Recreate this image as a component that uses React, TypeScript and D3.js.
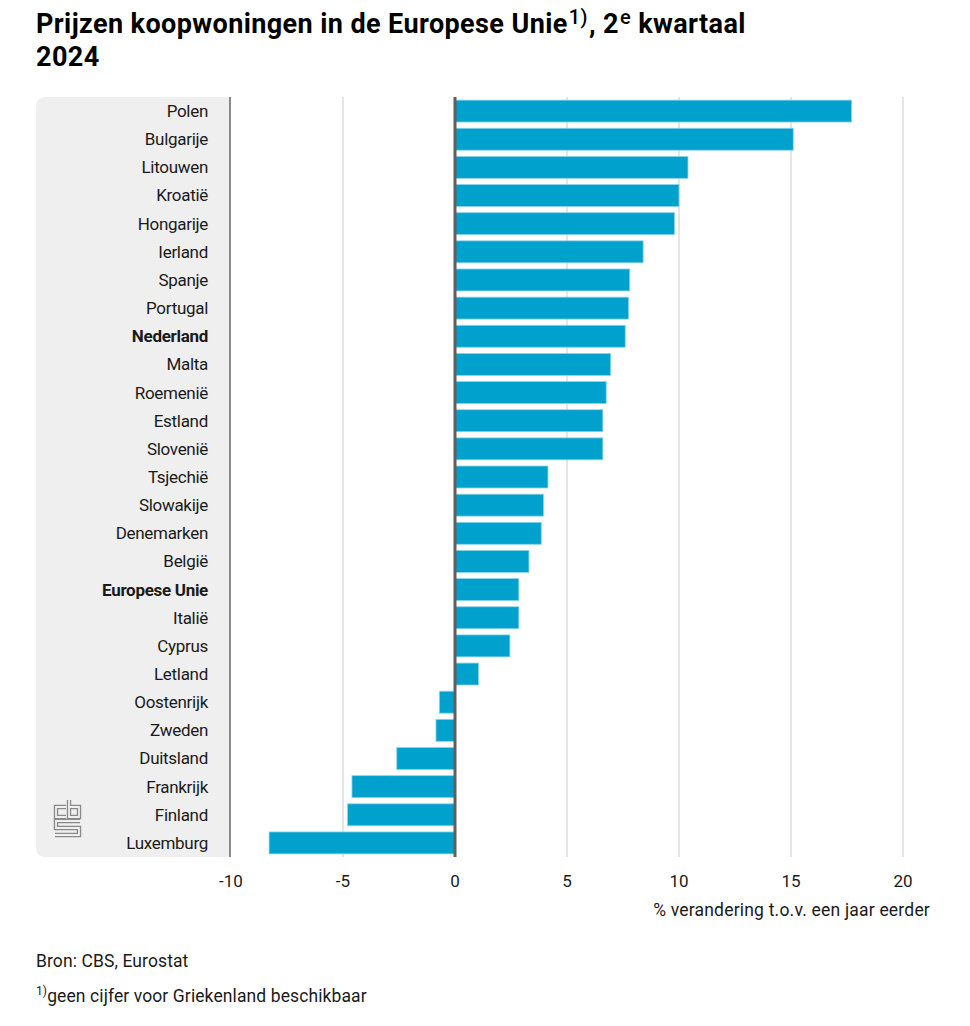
import React from "react";
import * as d3 from "d3";

const countries = [
  "Polen", "Bulgarije", "Litouwen", "Kroatië", "Hongarije", "Ierland", "Spanje",
  "Portugal", "Nederland", "Malta", "Roemenië", "Estland", "Slovenië", "Tsjechië",
  "Slowakije", "Denemarken", "België", "Europese Unie", "Italië", "Cyprus", "Letland",
  "Oostenrijk", "Zweden", "Duitsland", "Frankrijk", "Finland", "Luxemburg",
];
const values = [
  17.7, 15.1, 10.4, 10.0, 9.8, 8.4, 7.8,
  7.75, 7.6, 6.95, 6.75, 6.6, 6.6, 4.15,
  3.95, 3.85, 3.3, 2.85, 2.85, 2.45, 1.05,
  -0.7, -0.85, -2.6, -4.6, -4.8, -8.3,
];
const boldCountries = ["Nederland", "Europese Unie"];
const xTicks = [-10, -5, 0, 5, 10, 15, 20];

const FONT = "Roboto, 'Noto Sans', sans-serif";

export default function App() {
  const x = d3.scaleLinear().domain([-10, 20]).range([231, 903]);
  const y = d3.scaleBand<string>().domain(countries).range([97, 857]).paddingInner(0.22).paddingOuter(0.11);
  const top = 97;
  const bottom = 857;

  return (
    <svg width={970} height={1026} style={{ position: "absolute", left: 0, top: 0, background: "#fff" }}
      fontFamily={FONT}>
      <text x={36} y={33} fontSize={27} fontWeight={700} fill="#000" letterSpacing={0.4}>
        Prijzen koopwoningen in de Europese Unie
        <tspan fontSize={20} fontWeight={500} dx={1} dy={-9}>1)</tspan>
        <tspan dx={1} dy={9}>, 2</tspan>
        <tspan fontSize={20} fontWeight={500} dx={1} dy={-9}>e</tspan>
        <tspan dy={9}> kwartaal</tspan>
      </text>
      <text x={36} y={66} fontSize={27} fontWeight={700} fill="#000" letterSpacing={0.4}>2024</text>

      {/* grey label panel */}
      <path d={`M230,${top} H46 Q36,${top} 36,${top + 10} V${bottom - 10} Q36,${bottom} 46,${bottom} H230 Z`} fill="#efefef" />

      {/* gridlines */}
      {xTicks.filter(t => t !== 0 && t !== -10).map(t => (
        <line key={t} x1={x(t)} x2={x(t)} y1={top} y2={bottom} stroke="#d4d4d4" strokeWidth={1.2} />
      ))}
      <line x1={230} x2={230} y1={top} y2={bottom} stroke="#666" strokeWidth={1.5} />

      {/* bars */}
      {countries.map((c, i) => {
        const v = values[i];
        const x0 = x(Math.min(0, v));
        const x1 = x(Math.max(0, v));
        return (
          <rect key={c} x={x0} y={y(c)} width={x1 - x0} height={y.bandwidth()}
            fill="#00a1cd" stroke="#8fd3ea" strokeWidth={0.8} />
        );
      })}

      {/* zero line */}
      <line x1={x(0)} x2={x(0)} y1={top} y2={bottom} stroke="#5f5f5f" strokeWidth={3} />

      {/* category labels */}
      {countries.map(c => (
        <text key={c} x={208} y={(y(c) as number) + y.bandwidth() / 2} dy="0.35em" textAnchor="end"
          fontSize={17} letterSpacing={-0.3} fill="#1a1a1a" fontWeight={boldCountries.includes(c) ? 700 : 400}>
          {c}
        </text>
      ))}

      {/* x tick labels */}
      {xTicks.map(t => (
        <text key={t} x={x(t)} y={887} textAnchor="middle" fontSize={17} fill="#1a1a1a">{t}</text>
      ))}
      <text x={930} y={916} textAnchor="end" fontSize={17.5} letterSpacing={0.2} fill="#1a1a1a">% verandering t.o.v. een jaar eerder</text>

      {/* logo */}
      <g fill="none" strokeLinejoin="miter">
        {[
          ["#8a8a8a", 4.4],
          ["#efefef", 1.8],
        ].map(([col, w], k) => (
          <g key={k} stroke={col as string} strokeWidth={w as number}>
            <path d="M66,807 H56 V817 H66" />
            <path d="M69,800 V817 H79 V807 H69" />
            <path d="M80,821 H56 V828 H79 V835 H55" />
          </g>
        ))}
      </g>

      {/* source */}
      <text x={36} y={967} fontSize={17.5} letterSpacing={0.1} fill="#1a1a1a">Bron: CBS, Eurostat</text>
      <text x={36} y={1002} fontSize={17.5} letterSpacing={0.1} fill="#1a1a1a">
        <tspan fontSize={12} dy={-7}>1)</tspan>
        <tspan dy={7}>geen cijfer voor Griekenland beschikbaar</tspan>
      </text>
    </svg>
  );
}
